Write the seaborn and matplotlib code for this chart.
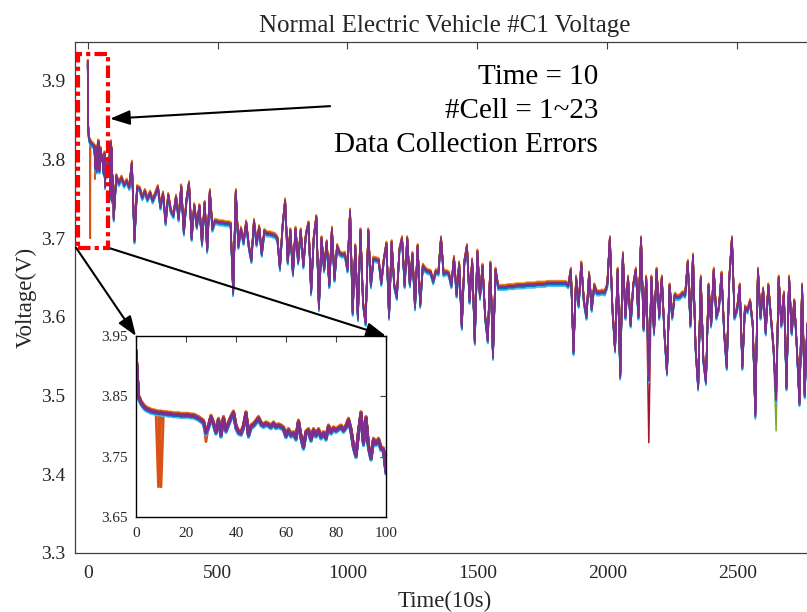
import numpy as np
import pandas as pd
import matplotlib
matplotlib.use('Agg')
import matplotlib.pyplot as plt
import seaborn as sns
from matplotlib.patches import Rectangle

# ---- data ----
# first 100 samples, one per sample (from the zoomed inset)
t_start = list(range(0, 101))
v_start = [3.925, 3.850, 3.840, 3.834, 3.830, 3.828, 3.826, 3.825, 3.824, 3.823,
           3.823, 3.822, 3.822, 3.821, 3.821, 3.820, 3.820, 3.820, 3.819, 3.819,
           3.819, 3.819, 3.818, 3.818, 3.816, 3.814, 3.811, 3.808, 3.790, 3.800,
           3.816, 3.805, 3.791, 3.811, 3.786, 3.814, 3.794, 3.805, 3.815, 3.823,
           3.800, 3.791, 3.789, 3.800, 3.822, 3.786, 3.800, 3.803, 3.808, 3.814,
           3.805, 3.802, 3.805, 3.803, 3.800, 3.805, 3.800, 3.802, 3.800, 3.797,
           3.785, 3.794, 3.786, 3.789, 3.781, 3.808, 3.783, 3.766, 3.790, 3.794,
           3.779, 3.794, 3.786, 3.794, 3.783, 3.789, 3.781, 3.800, 3.791, 3.797,
           3.794, 3.797, 3.800, 3.794, 3.800, 3.811, 3.794, 3.767, 3.752, 3.790,
           3.822, 3.772, 3.814, 3.767, 3.748, 3.778, 3.772, 3.778, 3.764, 3.762,
           3.725]

# rest of the record, one value every 10 samples
t_rest = list(range(110, 2771, 10))
v_rest = [3.779, 3.770, 3.777, 3.768, 3.773, 3.765, 3.796, 3.697, 3.765,
          3.763, 3.752, 3.760, 3.750, 3.758, 3.748, 3.756, 3.765, 3.740, 3.757,
          3.720, 3.755, 3.735, 3.729, 3.753, 3.725, 3.766, 3.707, 3.748, 3.770,
          3.700, 3.742, 3.715, 3.741, 3.693, 3.745, 3.685, 3.760, 3.712, 3.722,
          3.721, 3.720, 3.720, 3.719, 3.719, 3.718, 3.630, 3.760, 3.690, 3.712,
          3.695, 3.720, 3.690, 3.672, 3.722, 3.693, 3.714, 3.680, 3.709, 3.706,
          3.706, 3.705, 3.704, 3.700, 3.662, 3.715, 3.748, 3.670, 3.710, 3.655,
          3.712, 3.670, 3.710, 3.665, 3.705, 3.719, 3.631, 3.700, 3.727, 3.611,
          3.700, 3.660, 3.695, 3.640, 3.712, 3.648, 3.690, 3.681, 3.679, 3.680,
          3.660, 3.735, 3.605, 3.690, 3.598, 3.710, 3.617, 3.592, 3.710, 3.640,
          3.674, 3.673, 3.672, 3.643, 3.673, 3.693, 3.600, 3.695, 3.640, 3.625,
          3.685, 3.700, 3.640, 3.700, 3.641, 3.680, 3.612, 3.690, 3.615, 3.665,
          3.660, 3.658, 3.657, 3.645, 3.658, 3.656, 3.700, 3.655, 3.657, 3.655,
          3.640, 3.675, 3.628, 3.668, 3.587, 3.670, 3.690, 3.620, 3.672, 3.568,
          3.683, 3.625, 3.665, 3.600, 3.570, 3.668, 3.549, 3.660, 3.638, 3.638,
          3.638, 3.638, 3.639, 3.639, 3.639, 3.640, 3.640, 3.640, 3.640, 3.641,
          3.641, 3.641, 3.641, 3.642, 3.642, 3.642, 3.642, 3.643, 3.643, 3.643,
          3.643, 3.643, 3.643, 3.643, 3.643, 3.640, 3.660, 3.555, 3.650, 3.615,
          3.668, 3.620, 3.600, 3.655, 3.610, 3.640, 3.631, 3.631, 3.632, 3.631,
          3.640, 3.700, 3.610, 3.558, 3.660, 3.524, 3.680, 3.600, 3.650, 3.590,
          3.640, 3.660, 3.600, 3.700, 3.585, 3.650, 3.520, 3.650, 3.580, 3.660,
          3.600, 3.650, 3.580, 3.529, 3.640, 3.600, 3.628, 3.625, 3.626, 3.630,
          3.628, 3.670, 3.590, 3.678, 3.560, 3.510, 3.650, 3.545, 3.517, 3.640,
          3.590, 3.660, 3.600, 3.612, 3.655, 3.580, 3.536, 3.650, 3.700, 3.600,
          3.610, 3.640, 3.536, 3.612, 3.608, 3.620, 3.590, 3.475, 3.660, 3.600,
          3.635, 3.580, 3.640, 3.600, 3.560, 3.495, 3.650, 3.590, 3.630, 3.510,
          3.650, 3.580, 3.620, 3.560, 3.490, 3.640, 3.500, 3.590]

# 23 cells, each sits a little above/below the pack
cell_ids = list(range(1, 24))
cell_offsets = [-0.003, 0.002, 0.003, 0.000, 0.001, -0.004, 0.001,
                -0.003, 0.002, 0.003, 0.000, 0.001, -0.004, 0.001,
                -0.002, 0.002, 0.002, 0.000, 0.000, -0.003, 0.001,
                -0.002, 0.002]

# single-cell readings that differ from the pack: (cell, time, voltage)
dip_events = [(2, 9, 3.700), (9, 10, 3.700)]
tip_events = [(3, 0, 3.852), (10, 0, 3.852), (2, 28, 3.775),
              (7, 2160, 3.440), (2, 2570, 3.470), (1, 2650, 3.478), (5, 2650, 3.455)]

matlab_colors = ['#0072BD', '#D95319', '#EDB120', '#7E2F8E', '#77AC30', '#4DBEEE', '#A2142F']

# ---- build long table ----
t_all = t_start + t_rest
v_all = np.array(v_start + v_rest)
rows = []
for cid, off in zip(cell_ids, cell_offsets):
    v = v_all + off
    for c, t, val in dip_events + tip_events:
        if c == cid:
            v[t_all.index(t)] = val
    rows.append(pd.DataFrame({'time': t_all, 'voltage': v, 'cell': f'Cell {cid}'}))
df = pd.concat(rows, ignore_index=True)

palette = {f'Cell {c}': matlab_colors[(c - 1) % 7] for c in cell_ids}
# purple cells go on top, the way the pack looks in the picture
draw_order = [f'Cell {c}' for c in cell_ids if (c - 1) % 7 != 3] + \
             [f'Cell {c}' for c in cell_ids if (c - 1) % 7 == 3]

sns.set_style('white')
plt.rcParams['font.family'] = ['Liberation Serif', 'DejaVu Serif']

fig = plt.figure(figsize=(8.07, 6.12), dpi=100)
ax = fig.add_axes([0.0926, 0.0969, 0.9174, 0.835])

sns.lineplot(data=df, x='time', y='voltage', hue='cell', hue_order=draw_order,
             palette=palette, estimator=None, sort=False, lw=1.1, legend=False, ax=ax)
ax.set_xlim(-50, 2800)
ax.set_ylim(3.3, 3.95)
ax.set_xticks([0, 500, 1000, 1500, 2000, 2500])
ax.set_yticks([3.3, 3.4, 3.5, 3.6, 3.7, 3.8, 3.9])
ax.set_yticklabels(['3.3', '3.4', '3.5', '3.6', '3.7', '3.8', '3.9'])
ax.tick_params(direction='in', top=True, right=True, length=5, width=0.8,
               labelsize=14, color='#404040', labelcolor='#262626')
ax.tick_params(axis='x', pad=9)
ax.tick_params(axis='y', pad=7)
for s in ax.spines.values():
    s.set_color('#404040')
    s.set_linewidth(0.9)
ax.set_title('Normal Electric Vehicle #C1 Voltage', fontsize=18, pad=7, color='#262626')
ax.set_xlabel('Time(10s)', fontsize=16.5, labelpad=6, color='#262626')
ax.set_ylabel('Voltage(V)', fontsize=16.5, labelpad=3, color='#262626')

# red box around the first samples
ax.add_patch(Rectangle((-37, 3.688), 115, 0.246, fill=False, ec='#FF0000', lw=3,
                       ls=(0, (3, 1, 1, 1)), zorder=5, clip_on=False))

ax.text(1964, 3.862, 'Time = 10\n#Cell = 1~23\nData Collection Errors',
        ha='right', va='center', multialignment='right', fontsize=21,
        linespacing=1.4, color='black')

# inset: first 100 samples
axins = fig.add_axes([0.1685, 0.1552, 0.3098, 0.2958])
sns.lineplot(data=df[df['time'] <= 100], x='time', y='voltage', hue='cell',
             hue_order=draw_order, palette=palette, estimator=None, sort=False,
             lw=2.0, legend=False, ax=axins)
axins.set_xlim(0, 100)
axins.set_ylim(3.65, 3.95)
axins.set_xticks([0, 20, 40, 60, 80, 100])
axins.set_yticks([3.65, 3.75, 3.85, 3.95])
axins.set_yticklabels(['3.65', '3.75', '3.85', '3.95'])
axins.tick_params(direction='in', top=True, right=True, length=4, width=0.8,
                  labelsize=11, color='#404040', labelcolor='#262626')
axins.tick_params(axis='x', pad=7)
axins.tick_params(axis='y', pad=6)
axins.set_xlabel('')
axins.set_ylabel('')
for s in axins.spines.values():
    s.set_color('black')
    s.set_linewidth(1.0)

arrow = dict(arrowstyle='-|>,head_length=0.6,head_width=0.22', color='black', lw=1.5,
             mutation_scale=20, shrinkA=0, shrinkB=0)
ax.annotate('', xy=(86, 3.852), xytext=(933, 3.868), arrowprops=arrow)
ax.annotate('', xy=(0, 1), xycoords=axins.transAxes, xytext=(-45, 3.688),
            textcoords='data', arrowprops=arrow, annotation_clip=False)
ax.annotate('', xy=(1, 1), xycoords=axins.transAxes, xytext=(78, 3.688),
            textcoords='data', arrowprops=arrow, annotation_clip=False)

fig.savefig('out.png', dpi=100)
